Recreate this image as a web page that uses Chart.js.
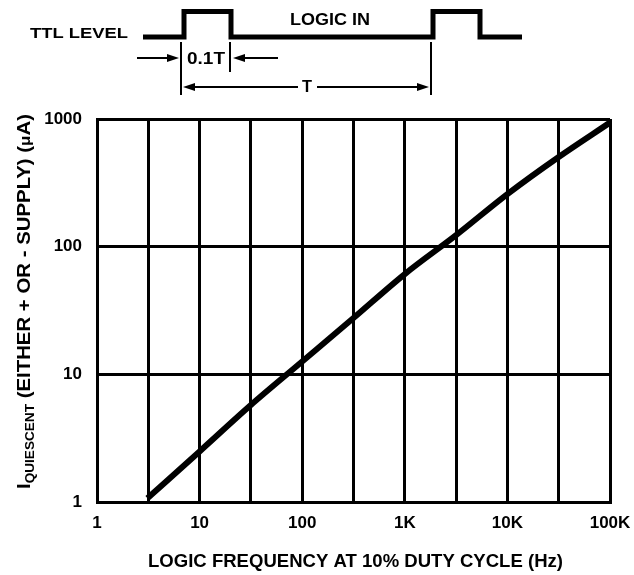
<!DOCTYPE html>
<html><head><meta charset="utf-8">
<script src="https://cdn.jsdelivr.net/npm/chart.js@4.4.0/dist/chart.umd.min.js"></script>
<style>html,body{margin:0;padding:0;background:#fff;} #wrap{width:634px;height:575px;position:relative;}</style>
</head><body><div id="wrap"><canvas id="c" width="634" height="575"></canvas></div>
<script>
// ---- data ----
const freqHz = [3.1, 10, 31.6, 100, 316, 1000, 3162, 10000, 31623, 100000];
const iqUA   = [1.07, 2.49, 5.75, 12.6, 27.6, 61, 123, 258, 504, 938];
const xGridValues = [1, 3.162, 10, 31.62, 100, 316.2, 1000, 3162, 10000, 31623, 100000];
const xTickLabels = ['1', '10', '100', '1K', '10K', '100K'];
const yGridValues = [1, 10, 100, 1000];
const yTickLabels = ['1', '10', '100', '1000'];
const xTitle = 'LOGIC FREQUENCY AT 10% DUTY CYCLE (Hz)';
const yTitleParts = ['I', 'QUIESCENT', ' (EITHER + OR - SUPPLY) (', 'μ', 'A)'];

const FONT = '"Liberation Sans", Arial, Helvetica, sans-serif';

function fitText(ctx, text, left, baseline, width, size) {
  ctx.save();
  ctx.font = 'bold ' + size + 'px ' + FONT;
  const m = ctx.measureText(text).width;
  ctx.translate(left, baseline);
  ctx.scale(width / m, 1);
  ctx.textAlign = 'left';
  ctx.textBaseline = 'alphabetic';
  ctx.fillStyle = '#000';
  ctx.fillText(text, 0, 0);
  ctx.restore();
}

function arrowHead(ctx, x, y, dir) {
  ctx.beginPath();
  ctx.moveTo(x, y);
  ctx.lineTo(x - dir * 12, y - 4);
  ctx.lineTo(x - dir * 12, y + 4);
  ctx.closePath();
  ctx.fill();
}

const decor = {
  id: 'decor',
  afterDraw(chart) {
    const ctx = chart.ctx;
    ctx.save();
    ctx.strokeStyle = '#000';
    ctx.fillStyle = '#000';
    // waveform
    ctx.lineWidth = 5;
    ctx.lineJoin = 'miter';
    ctx.lineCap = 'butt';
    ctx.beginPath();
    ctx.moveTo(143, 37);
    ctx.lineTo(184, 37); ctx.lineTo(184, 11.5); ctx.lineTo(231, 11.5); ctx.lineTo(231, 37);
    ctx.lineTo(433, 37); ctx.lineTo(433, 11.5); ctx.lineTo(480, 11.5); ctx.lineTo(480, 37);
    ctx.lineTo(522, 37);
    ctx.stroke();
    // marker verticals and arrow shafts
    ctx.lineWidth = 2;
    ctx.beginPath();
    ctx.moveTo(181, 42); ctx.lineTo(181, 95);
    ctx.moveTo(230, 42); ctx.lineTo(230, 72);
    ctx.moveTo(431, 42); ctx.lineTo(431, 95);
    ctx.moveTo(137, 58); ctx.lineTo(170, 58);
    ctx.moveTo(278, 58); ctx.lineTo(244, 58);
    ctx.moveTo(195, 87); ctx.lineTo(298, 87);
    ctx.moveTo(317, 87); ctx.lineTo(418, 87);
    ctx.stroke();
    arrowHead(ctx, 179, 58, 1);
    arrowHead(ctx, 233, 58, -1);
    arrowHead(ctx, 183, 87, -1);
    arrowHead(ctx, 429, 87, 1);
    // texts
    fitText(ctx, 'TTL LEVEL', 30, 37.5, 98, 15);
    fitText(ctx, 'LOGIC IN', 290, 25, 80, 16);
    fitText(ctx, '0.1T', 187, 64, 38, 17);
    fitText(ctx, 'T', 302, 91.5, 10, 17);
    // x title
    fitText(ctx, xTitle, 148, 567, 415, 17.5);
    // y title (rotated, with subscript)
    const big = 'bold 18px ' + FONT, small = 'bold 12px ' + FONT, mu = 'bold 15px ' + FONT;
    const fonts = [big, small, big, mu, big];
    const shifts = [0, 4, 0, 0, 0];
    const widths = yTitleParts.map((t, i) => { ctx.font = fonts[i]; return ctx.measureText(t).width; });
    const total = widths.reduce((a, b) => a + b, 0);
    const target = 375;
    ctx.translate(30, 489);
    ctx.rotate(-Math.PI / 2);
    ctx.scale(target / total, 1);
    ctx.textAlign = 'left';
    ctx.textBaseline = 'alphabetic';
    let pos = 0;
    yTitleParts.forEach((t, i) => {
      ctx.font = fonts[i];
      ctx.fillText(t, pos, shifts[i]);
      pos += widths[i];
    });
    ctx.restore();
  }
};

function decadeLabel(v, labels) {
  const k = Math.log10(v);
  const r = Math.round(k);
  if (Math.abs(k - r) < 1e-6 && r >= 0 && r < labels.length) return labels[r];
  return '';
}

const tickFont = { family: FONT, size: 17, weight: 'bold' };

new Chart(document.getElementById('c').getContext('2d'), {
  type: 'line',
  data: {
    datasets: [{
      data: freqHz.map((f, i) => ({ x: f, y: iqUA[i] })),
      borderColor: '#000',
      borderWidth: 6,
      pointRadius: 0,
      cubicInterpolationMode: 'monotone',
      fill: false,
      borderCapStyle: 'butt'
    }]
  },
  options: {
    responsive: false,
    animation: false,
    devicePixelRatio: 1,
    layout: { padding: { left: 0, right: 24, top: 119, bottom: 0 } },
    plugins: { legend: { display: false }, tooltip: { enabled: false } },
    scales: {
      x: {
        type: 'logarithmic', min: 1, max: 100000,
        afterBuildTicks: s => { s.ticks = xGridValues.map(v => ({ value: v })); },
        afterFit: s => { s.height = 73; s.paddingLeft = 0; s.paddingRight = 0; },
        grid: { color: '#000', lineWidth: 3, drawTicks: false },
        border: { display: true, color: '#000', width: 3 },
        ticks: { autoSkip: false, maxRotation: 0, minRotation: 0, padding: 11, color: '#000', font: tickFont,
                 callback: v => decadeLabel(v, xTickLabels) }
      },
      y: {
        type: 'logarithmic', min: 1, max: 1000,
        afterBuildTicks: s => { s.ticks = yGridValues.map(v => ({ value: v })); },
        afterFit: s => { s.width = 97; s.paddingTop = 0; s.paddingBottom = 0; },
        grid: { color: '#000', lineWidth: 3, drawTicks: false },
        border: { display: true, color: '#000', width: 3 },
        ticks: { autoSkip: false, padding: 15, color: '#000', font: tickFont,
                 callback: v => decadeLabel(v, yTickLabels) }
      }
    }
  },
  plugins: [decor]
});
</script>
</body></html>
